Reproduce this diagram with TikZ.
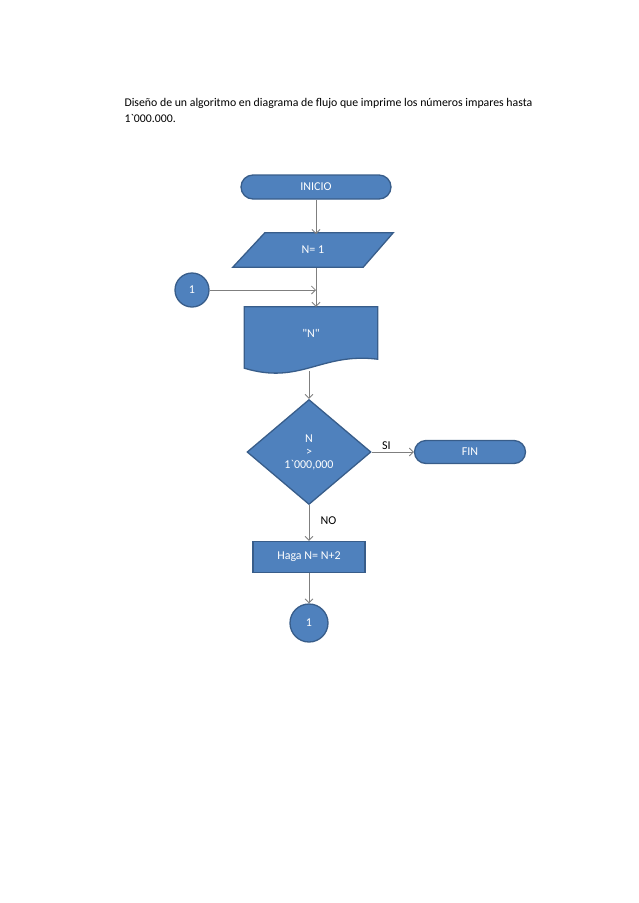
\documentclass[tikz,border=0pt]{standalone}
\usepackage{fontspec}
\setmainfont{Carlito}[Ligatures=TeXOff]
\usetikzlibrary{arrows.meta,shapes.geometric,shapes.misc,calc,backgrounds}

\definecolor{shapefill}{HTML}{4F81BD}
\definecolor{shapeline}{HTML}{385D8A}
\definecolor{linkgray}{HTML}{7F7F7F}

\begin{document}
\begin{tikzpicture}[
    x=1pt, y=-1pt,
    >={Straight Barb[length=4pt,width=8pt]},
    blk/.style={fill=shapefill, draw=shapeline, line width=1.3pt, text=white,
                font=\fontsize{12}{13}\selectfont, inner sep=0pt, align=center},
    term/.style={blk, rounded rectangle, minimum width=150pt, minimum height=24pt},
    cond/.style={blk, diamond, minimum width=124pt, minimum height=105pt},
    proc/.style={blk, rectangle, minimum width=112pt, minimum height=31pt},
    conn/.style={blk, circle},
    outline/.style={fill=shapefill, draw=shapeline, line width=1.3pt},
    flow/.style={->, draw=linkgray, line width=0.8pt},
    lbl/.style={font=\fontsize{12}{13}\selectfont, text=black},
  ]
  \useasboundingbox (0,0) rectangle (638,903);

  \node[anchor=base west, align=left, font=\fontsize{11.8}{16}\selectfont] (title) at (121,122)
       {Diseño de un algoritmo en diagrama de flujo que imprime los números impares hasta\\1`000.000.};

  \node[term] (ini) at (316,187) {INICIO};

  % paralelogramo de entrada
  \node[minimum width=160pt, minimum height=34pt, inner sep=0pt, text=white,
        font=\fontsize{12}{13}\selectfont] (nval) at (313,250) {N= 1};
  \begin{scope}[on background layer]
    \draw[outline] ($(nval.north west)+(32,0)$) -- (nval.north east)
      -- ($(nval.south east)+(-30,0)$) -- (nval.south west) -- cycle;
  \end{scope}

  \node[conn, minimum size=34pt] (cin) at (192,290) {1};

  % documento con borde ondulado
  \node[minimum width=133pt, minimum height=52pt, inner sep=0pt, text=white,
        font=\fontsize{12}{13}\selectfont] (doc) at (311,333) {"N"};
  \begin{scope}[on background layer]
    \draw[outline]
      (doc.north west) -- (doc.north east) -- (doc.south east)
      .. controls ($(doc.south east)+(-57,-7)$) and ($(doc.south east)+(-77,26)$)
      .. ($(doc.south west)+(0,9)$) -- cycle;
  \end{scope}
  \coordinate (docb) at (309,371);
  \coordinate (ntop) at (316,234);
  \coordinate (nbot) at (316,268);

  \node[cond] (test) at (309,452) {N\\>\\1`000,000};
  \node[term, minimum width=111pt, minimum height=23pt] (fin) at (470,452) {FIN};
  \node[proc] (step) at (309,557) {Haga N= N+2};
  \node[conn, minimum size=38pt] (cout) at (309,623) {1};

  \draw[flow] (ini.south -| ntop) -- (ntop);
  \draw[flow] (nbot) -- (nbot |- doc.north);
  \draw[flow] (cin.east) -- (cin.east -| nbot);
  \draw[flow] (docb) -- (test.north);
  \draw[flow] (test.east) -- (fin.west)
       node[lbl, pos=0.35, above, inner sep=2pt] (si) {SI};
  \draw[flow] (test.south) -- (step.north)
       node[lbl, pos=0.42, right, xshift=8pt] (no) {NO};
  \draw[flow] (step.south) -- (cout.north);

\end{tikzpicture}
\end{document}
